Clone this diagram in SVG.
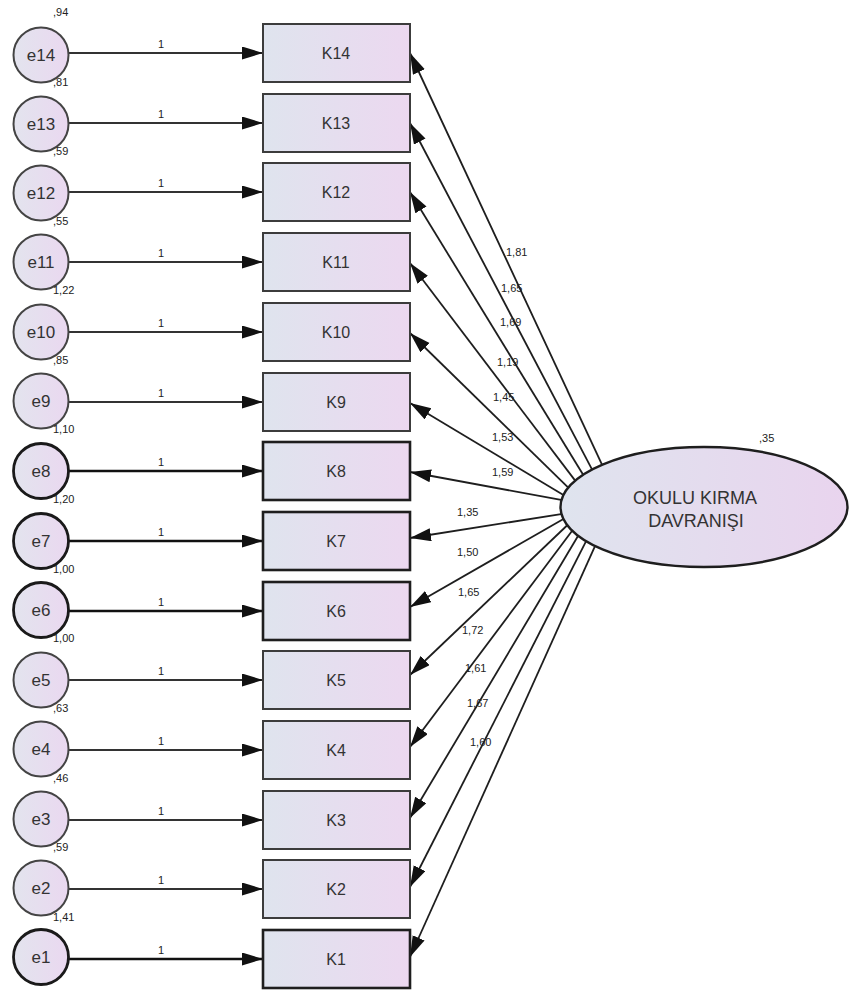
<svg xmlns="http://www.w3.org/2000/svg" width="849" height="993" viewBox="0 0 849 993">
<defs>
<linearGradient id="gk" x1="0" y1="0" x2="1" y2="0">
<stop offset="0" stop-color="#dfe4ee"/>
<stop offset="1" stop-color="#ecd8f0"/>
</linearGradient>
<linearGradient id="ge" x1="0" y1="0" x2="1" y2="0">
<stop offset="0" stop-color="#e3e4ee"/>
<stop offset="1" stop-color="#ead8f0"/>
</linearGradient>
<linearGradient id="gf" x1="0" y1="0" x2="1" y2="0">
<stop offset="0" stop-color="#dfe4ee"/>
<stop offset="1" stop-color="#e9d4ee"/>
</linearGradient>
<marker id="ah" markerUnits="userSpaceOnUse" markerWidth="22" markerHeight="14" refX="21" refY="6.5" orient="auto">
<path d="M0,0 L21,6.5 L0,13 z" fill="#111"/>
</marker>
</defs>
<style>
.box{fill:url(#gk);stroke:#3c3c3c;stroke-width:2}
.box.b{stroke:#1e1e1e;stroke-width:2.6}
.err{fill:url(#ge);stroke:#444;stroke-width:2}
.err.b{stroke:#1a1a1a;stroke-width:2.8}
.lat{fill:url(#gf);stroke:#1e1e1e;stroke-width:2.4}
.t{font-family:"Liberation Sans",Arial,sans-serif;fill:#333;text-anchor:middle}
.kt{font-size:16px}
.et{font-size:17px}
.lt{font-size:18px}
.n{font-family:"Liberation Sans",Arial,sans-serif;font-size:11px;fill:#222}
.c{text-anchor:middle}
.reg{stroke:#333;stroke-width:2;fill:none;marker-end:url(#ah)}
.reg.b{stroke:#111;stroke-width:2.6}
.load{stroke:#1e1e1e;stroke-width:1.8;fill:none;marker-end:url(#ah)}
</style>

<g id="connectors">
<line class="reg" x1="68" y1="53" x2="263" y2="53"/>
<line class="reg" x1="68" y1="123" x2="263" y2="123"/>
<line class="reg" x1="68" y1="192" x2="263" y2="192"/>
<line class="reg" x1="68" y1="262" x2="263" y2="262"/>
<line class="reg" x1="68" y1="332" x2="263" y2="332"/>
<line class="reg" x1="68" y1="402" x2="263" y2="402"/>
<line class="reg b" x1="68" y1="471" x2="263" y2="471"/>
<line class="reg b" x1="68" y1="541" x2="263" y2="541"/>
<line class="reg b" x1="68" y1="611" x2="263" y2="611"/>
<line class="reg" x1="68" y1="680" x2="263" y2="680"/>
<line class="reg" x1="68" y1="750" x2="263" y2="750"/>
<line class="reg" x1="68" y1="820" x2="263" y2="820"/>
<line class="reg" x1="68" y1="889" x2="263" y2="889"/>
<line class="reg b" x1="68" y1="959" x2="263" y2="959"/>

<line class="load" x1="602" y1="464.7" x2="410" y2="53"/>
<line class="load" x1="592" y1="469.3" x2="410" y2="123"/>
<line class="load" x1="583" y1="474.5" x2="410" y2="192"/>
<line class="load" x1="575" y1="480.4" x2="410" y2="263"/>
<line class="load" x1="568" y1="487.3" x2="410" y2="333"/>
<line class="load" x1="563" y1="494.8" x2="410" y2="403"/>
<line class="load" x1="561" y1="499.9" x2="410" y2="472"/>
<line class="load" x1="561" y1="514.1" x2="410" y2="538"/>
<line class="load" x1="563" y1="519.2" x2="410" y2="607"/>
<line class="load" x1="567" y1="525.5" x2="410" y2="675"/>
<line class="load" x1="572" y1="531" x2="410" y2="747"/>
<line class="load" x1="578" y1="536" x2="410" y2="818"/>
<line class="load" x1="586" y1="541.4" x2="410" y2="887"/>
<line class="load" x1="595" y1="546.2" x2="410" y2="957"/>

<g class="n c">
<text x="161" y="48">1</text>
<text x="161" y="118">1</text>
<text x="161" y="187">1</text>
<text x="161" y="257">1</text>
<text x="161" y="327">1</text>
<text x="161" y="397">1</text>
<text x="161" y="466">1</text>
<text x="161" y="536">1</text>
<text x="161" y="606">1</text>
<text x="161" y="675">1</text>
<text x="161" y="745">1</text>
<text x="161" y="815">1</text>
<text x="161" y="884">1</text>
<text x="161" y="954">1</text>
</g>
<g class="n">
<text x="506" y="256">1,81</text>
<text x="501" y="292">1,65</text>
<text x="500" y="326">1,69</text>
<text x="497" y="366">1,19</text>
<text x="493" y="401">1,45</text>
<text x="492" y="441">1,53</text>
<text x="492" y="476">1,59</text>
<text x="457" y="516">1,35</text>
<text x="457" y="556">1,50</text>
<text x="458" y="596">1,65</text>
<text x="462" y="634">1,72</text>
<text x="465" y="672">1,61</text>
<text x="467" y="707">1,67</text>
<text x="470" y="746">1,60</text>
</g>
</g>

<g id="e14"><circle class="err" cx="41" cy="55" r="27.5"/><text class="t et" x="41" y="61">e14</text><text class="n" x="53" y="16">,94</text></g>
<g id="e13"><circle class="err" cx="41" cy="124" r="27.5"/><text class="t et" x="41" y="130">e13</text><text class="n" x="53" y="86">,81</text></g>
<g id="e12"><circle class="err" cx="41" cy="193" r="27.5"/><text class="t et" x="41" y="199">e12</text><text class="n" x="53" y="155">,59</text></g>
<g id="e11"><circle class="err" cx="41" cy="262" r="27.5"/><text class="t et" x="41" y="268">e11</text><text class="n" x="53" y="225">,55</text></g>
<g id="e10"><circle class="err" cx="41" cy="332" r="27.5"/><text class="t et" x="41" y="338">e10</text><text class="n" x="53" y="294">1,22</text></g>
<g id="e9"><circle class="err" cx="41" cy="401" r="27.5"/><text class="t et" x="41" y="407">e9</text><text class="n" x="53" y="364">,85</text></g>
<g id="e8"><circle class="err b" cx="41" cy="471" r="27.5"/><text class="t et" x="41" y="477">e8</text><text class="n" x="53" y="433">1,10</text></g>
<g id="e7"><circle class="err b" cx="41" cy="541" r="27.5"/><text class="t et" x="41" y="547">e7</text><text class="n" x="53" y="503">1,20</text></g>
<g id="e6"><circle class="err b" cx="41" cy="610" r="27.5"/><text class="t et" x="41" y="616">e6</text><text class="n" x="53" y="573">1,00</text></g>
<g id="e5"><circle class="err" cx="41" cy="680" r="27.5"/><text class="t et" x="41" y="686">e5</text><text class="n" x="53" y="642">1,00</text></g>
<g id="e4"><circle class="err" cx="41" cy="749" r="27.5"/><text class="t et" x="41" y="755">e4</text><text class="n" x="53" y="712">,63</text></g>
<g id="e3"><circle class="err" cx="41" cy="819" r="27.5"/><text class="t et" x="41" y="825">e3</text><text class="n" x="53" y="782">,46</text></g>
<g id="e2"><circle class="err" cx="41" cy="888" r="27.5"/><text class="t et" x="41" y="894">e2</text><text class="n" x="53" y="851">,59</text></g>
<g id="e1"><circle class="err b" cx="41" cy="957" r="27.5"/><text class="t et" x="41" y="963">e1</text><text class="n" x="53" y="921">1,41</text></g>

<g id="K14"><rect class="box" x="263" y="24" width="147" height="58"/><text class="t kt" x="336" y="59">K14</text></g>
<g id="K13"><rect class="box" x="263" y="94" width="147" height="58"/><text class="t kt" x="336" y="129">K13</text></g>
<g id="K12"><rect class="box" x="263" y="163" width="147" height="58"/><text class="t kt" x="336" y="198">K12</text></g>
<g id="K11"><rect class="box" x="263" y="233" width="147" height="58"/><text class="t kt" x="336" y="268">K11</text></g>
<g id="K10"><rect class="box" x="263" y="303" width="147" height="58"/><text class="t kt" x="336" y="338">K10</text></g>
<g id="K9"><rect class="box" x="263" y="373" width="147" height="58"/><text class="t kt" x="336" y="408">K9</text></g>
<g id="K8"><rect class="box b" x="263" y="442" width="147" height="58"/><text class="t kt" x="336" y="477">K8</text></g>
<g id="K7"><rect class="box b" x="263" y="512" width="147" height="58"/><text class="t kt" x="336" y="547">K7</text></g>
<g id="K6"><rect class="box b" x="263" y="582" width="147" height="58"/><text class="t kt" x="336" y="617">K6</text></g>
<g id="K5"><rect class="box" x="263" y="651" width="147" height="58"/><text class="t kt" x="336" y="686">K5</text></g>
<g id="K4"><rect class="box" x="263" y="721" width="147" height="58"/><text class="t kt" x="336" y="756">K4</text></g>
<g id="K3"><rect class="box" x="263" y="791" width="147" height="58"/><text class="t kt" x="336" y="826">K3</text></g>
<g id="K2"><rect class="box" x="263" y="860" width="147" height="58"/><text class="t kt" x="336" y="895">K2</text></g>
<g id="K1"><rect class="box b" x="263" y="930" width="147" height="58"/><text class="t kt" x="336" y="965">K1</text></g>

<g id="OKULU_KIRMA_DAVRANISI">
<ellipse class="lat" cx="704" cy="507" rx="143.5" ry="60"/>
<text class="t lt" x="695" y="504">OKULU KIRMA</text>
<text class="t lt" x="696" y="527">DAVRANIŞI</text>
<text class="n" x="759" y="442">,35</text>
</g>
</svg>
